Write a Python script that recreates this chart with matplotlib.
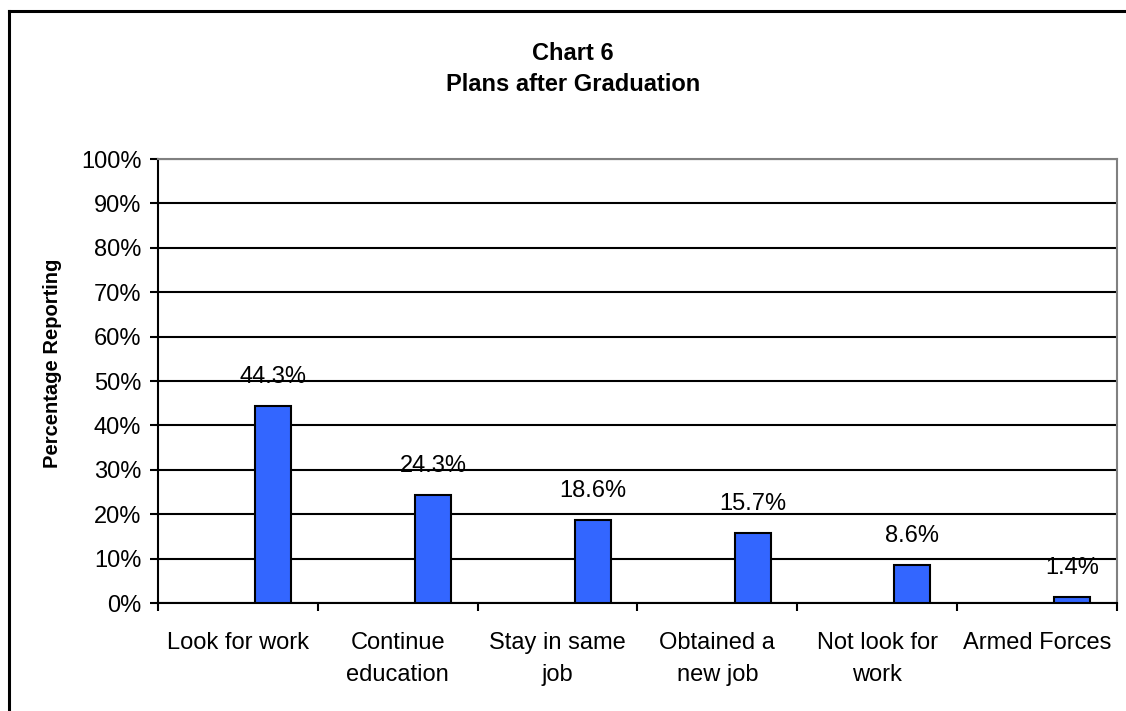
import matplotlib
matplotlib.use("Agg")
import matplotlib.pyplot as plt
import matplotlib.ticker as ticker
from matplotlib.lines import Line2D
import numpy as np

# ── Data ──────────────────────────────────────────────────────────────────────
categories = ["Look for work", "Continue\neducation", "Stay in same\njob",
              "Obtained a\nnew job", "Not look for\nwork", "Armed Forces"]
values = [44.3, 24.3, 18.6, 15.7, 8.6, 1.4]
y_ticks = [0, 10, 20, 30, 40, 50, 60, 70, 80, 90, 100]

# ── Style ─────────────────────────────────────────────────────────────────────
plt.rcParams.update({
    "font.family": ["Liberation Sans", "DejaVu Sans"],
    "font.size": 17,
})
BAR_COLOR = "#3366FF"
GRID_GRAY = "#808080"

fig = plt.figure(figsize=(11.26, 7.11), dpi=100)
ax = fig.add_axes([158 / 1126, 108 / 711, 959 / 1126, 444 / 711])

x = np.arange(len(categories))
ax.bar(x + 0.22, values, width=0.225, color=BAR_COLOR,
       edgecolor="black", linewidth=1.5, zorder=3)

for xi, v in zip(x, values):
    ax.annotate(f"{v:.1f}%", xy=(xi + 0.22, v), xytext=(0, 13),
                textcoords="offset points", ha="center", va="bottom",
                fontsize=17, zorder=4)

ax.set_xlim(-0.5, len(categories) - 0.5)
ax.set_ylim(0, 100)
ax.set_yticks(y_ticks)
ax.yaxis.set_major_formatter(ticker.FuncFormatter(lambda v, p: f"{v:.0f}%"))
ax.yaxis.grid(True, color="black", linewidth=1.5, zorder=1)
ax.set_axisbelow(True)

ax.set_xticks(x)
ax.set_xticklabels(categories, linespacing=1.6)
ax.xaxis.set_minor_locator(ticker.FixedLocator(np.arange(len(categories) + 1) - 0.5))
ax.tick_params(axis="x", which="major", length=0, pad=21)
ax.tick_params(axis="x", which="minor", length=6, width=1.5, direction="out")
ax.tick_params(axis="y", length=6, width=1.5, direction="out", pad=6)

for side in ("left", "bottom"):
    ax.spines[side].set_color("black")
    ax.spines[side].set_linewidth(1.5)
for side in ("top", "right"):
    ax.spines[side].set_color(GRID_GRAY)
    ax.spines[side].set_linewidth(1.5)

ax.set_ylabel("Percentage Reporting", fontsize=14.5, fontweight="bold")
ax.yaxis.set_label_coords(-0.100, 0.54)

fig.text(573 / 1126, 1 - 69 / 711, "Chart 6\nPlans after Graduation",
         ha="center", va="center", fontsize=17, fontweight="bold",
         linespacing=1.45)

# outer chart border (left and top visible)
fig.add_artist(Line2D([9 / 1126, 9 / 1126], [-0.1, 1 - 11 / 711],
                      transform=fig.transFigure, color="black", linewidth=2.2))
fig.add_artist(Line2D([9 / 1126, 1.1], [1 - 11 / 711, 1 - 11 / 711],
                      transform=fig.transFigure, color="black", linewidth=2.2))

fig.savefig("out.png", dpi=100)
